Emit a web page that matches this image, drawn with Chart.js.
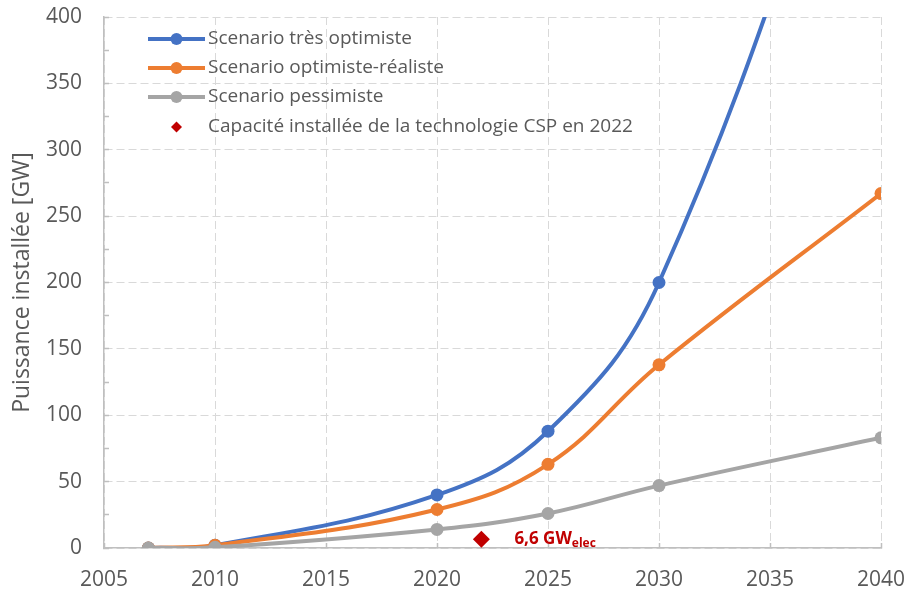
<!DOCTYPE html>
<html>
<head>
<meta charset="utf-8">
<script src="https://cdn.jsdelivr.net/npm/chart.js@4"></script>
<style>
  html, body { margin: 0; padding: 0; background: #ffffff; }
  #wrap { width: 908px; height: 592px; }
</style>
</head>
<body>
<div id="wrap"><canvas id="chart"></canvas></div>
<script>
// années des scénarios
const years = [2007, 2010, 2020, 2025, 2030, 2040];

// puissance installée [GW]
const tresOptimiste = [0, 2, 40, 88, 200, 650];
const optimisteRealiste = [0, 2, 29, 63, 138, 267];
const pessimiste = [0, 0.5, 14, 26, 47, 83];

// capacité CSP installée en 2022
const cspYear = [2022];
const cspValue = [6.6];

const seriesNames = [
      'Scenario très optimiste',
      'Scenario optimiste-réaliste',
      'Scenario pessimiste',
      'Capacité installée de la technologie CSP en 2022'
];
const seriesColors = ['#4472C4', '#ED7D31', '#A5A5A5', '#C00000'];

const xTicks = [2005, 2010, 2015, 2020, 2025, 2030, 2035, 2040];

const textColor = '#595959';
const gridColor = '#d9d9d9';
const axisColor = '#bfbfbf';
const fontFamily = '"Open Sans", sans-serif';

function toPoints(xs, ys)
{
      return xs.map((x, i) => ({ x: x, y: ys[i] }));
}

function lineDataset(idx, values)
{
      return {
            label: seriesNames[idx],
            data: toPoints(years, values),
            borderColor: seriesColors[idx],
            backgroundColor: seriesColors[idx],
            borderWidth: 4,
            pointRadius: 6.5,
            pointHoverRadius: 6.5,
            pointBorderWidth: 0,
            tension: 0.4,
            fill: false,
            // comme dans Excel : la dernière série passe au-dessus
            order: 4 - idx
      };
}

// légende dessinée dans la zone du graphique
const insideLegend = {
      id: 'insideLegend',
      afterDraw(chart)
      {
            const ctx = chart.ctx;
            const x0 = 148, x1 = 205, textX = 208;
            const rows = [39, 68, 97, 127];
            ctx.save();
            ctx.font = '19px ' + fontFamily;
            ctx.textBaseline = 'middle';
            for (let i = 0; i < 4; i++)
            {
                  const y = rows[i];
                  const cx = (x0 + x1) / 2;
                  ctx.fillStyle = seriesColors[i];
                  ctx.strokeStyle = seriesColors[i];
                  if (i < 3)
                  {
                        ctx.lineWidth = 4;
                        ctx.beginPath();
                        ctx.moveTo(x0, y);
                        ctx.lineTo(x1, y);
                        ctx.stroke();
                        ctx.beginPath();
                        ctx.arc(cx, y, 6, 0, Math.PI * 2);
                        ctx.fill();
                  }
                  else
                  {
                        const s = 5.5;
                        ctx.beginPath();
                        ctx.moveTo(cx, y - s);
                        ctx.lineTo(cx + s, y);
                        ctx.lineTo(cx, y + s);
                        ctx.lineTo(cx - s, y);
                        ctx.closePath();
                        ctx.fill();
                  }
                  ctx.fillStyle = textColor;
                  ctx.fillText(seriesNames[i], textX, y);
            }
            ctx.restore();
      }
};

// étiquette "6,6 GWelec" à côté du losange
const cspLabel = {
      id: 'cspLabel',
      afterDraw(chart)
      {
            const ctx = chart.ctx;
            const xs = chart.scales.x, ys = chart.scales.y;
            const px = xs.getPixelForValue(cspYear[0]) + 33;
            const py = ys.getPixelForValue(cspValue[0]);
            ctx.save();
            ctx.fillStyle = seriesColors[3];
            ctx.textBaseline = 'alphabetic';
            ctx.font = 'bold 17px ' + fontFamily;
            const main = String(cspValue[0]).replace('.', ',') + ' GW';
            ctx.fillText(main, px, py + 5);
            const w = ctx.measureText(main).width;
            ctx.font = 'bold 12px ' + fontFamily;
            ctx.fillText('elec', px + w, py + 8);
            ctx.restore();
      }
};

new Chart(document.getElementById('chart'), {
      type: 'line',
      data: {
            datasets: [
                  lineDataset(0, tresOptimiste),
                  lineDataset(1, optimisteRealiste),
                  lineDataset(2, pessimiste),
                  {
                        label: seriesNames[3],
                        type: 'scatter',
                        data: toPoints(cspYear, cspValue),
                        backgroundColor: seriesColors[3],
                        borderColor: seriesColors[3],
                        pointStyle: 'rectRot',
                        pointRadius: 8.5,
                        pointBorderWidth: 0,
                        showLine: false,
                        order: 0
                  }
            ]
      },
      options: {
            responsive: true,
            maintainAspectRatio: false,
            animation: false,
            elements: { line: { capBezierPoints: false } },
            layout: { padding: { top: 17, right: 27, left: 0, bottom: 0 } },
            plugins: {
                  legend: { display: false },
                  tooltip: { enabled: false }
            },
            scales: {
                  x: {
                        type: 'linear',
                        min: 2005,
                        max: 2040,
                        afterBuildTicks: (scale) => { scale.ticks = xTicks.map(v => ({ value: v })); },
                        afterFit: (scale) =>
                        {
                              scale.height = 44;
                              scale.paddingLeft = 0;
                              scale.paddingRight = 0;
                        },
                        ticks: {
                              color: textColor,
                              font: { family: fontFamily, size: 21 },
                              padding: 24,
                              maxRotation: 0,
                              callback: (v) => String(v)
                        },
                        grid: {
                              color: gridColor,
                              lineWidth: 1,
                              drawTicks: true,
                              tickLength: -5,
                              tickColor: axisColor,
                              tickWidth: 1.5
                        },
                        border: { display: true, color: axisColor, width: 1.5, dash: [8, 4] }
                  },
                  y: {
                        min: 0,
                        max: 400,
                        afterFit: (scale) =>
                        {
                              scale.width = 104;
                              scale.paddingTop = 0;
                              scale.paddingBottom = 0;
                        },
                        ticks: {
                              stepSize: 25,
                              color: textColor,
                              font: { family: fontFamily, size: 21 },
                              padding: 27,
                              callback: (v) => (v % 50 === 0 ? String(v) : '')
                        },
                        title: {
                              display: true,
                              text: 'Puissance installée [GW]',
                              color: textColor,
                              font: { family: fontFamily, size: 23 },
                              padding: { top: 9, bottom: 0 }
                        },
                        grid: {
                              color: (c) => (c.tick && c.tick.value % 50 === 0 ? gridColor : 'rgba(0,0,0,0)'),
                              lineWidth: 1,
                              drawTicks: true,
                              tickLength: -5,
                              tickColor: axisColor,
                              tickWidth: 1.5
                        },
                        border: { display: true, color: axisColor, width: 1.5, dash: [8, 4] }
                  }
            }
      },
      plugins: [insideLegend, cspLabel]
});
</script>
</body>
</html>
